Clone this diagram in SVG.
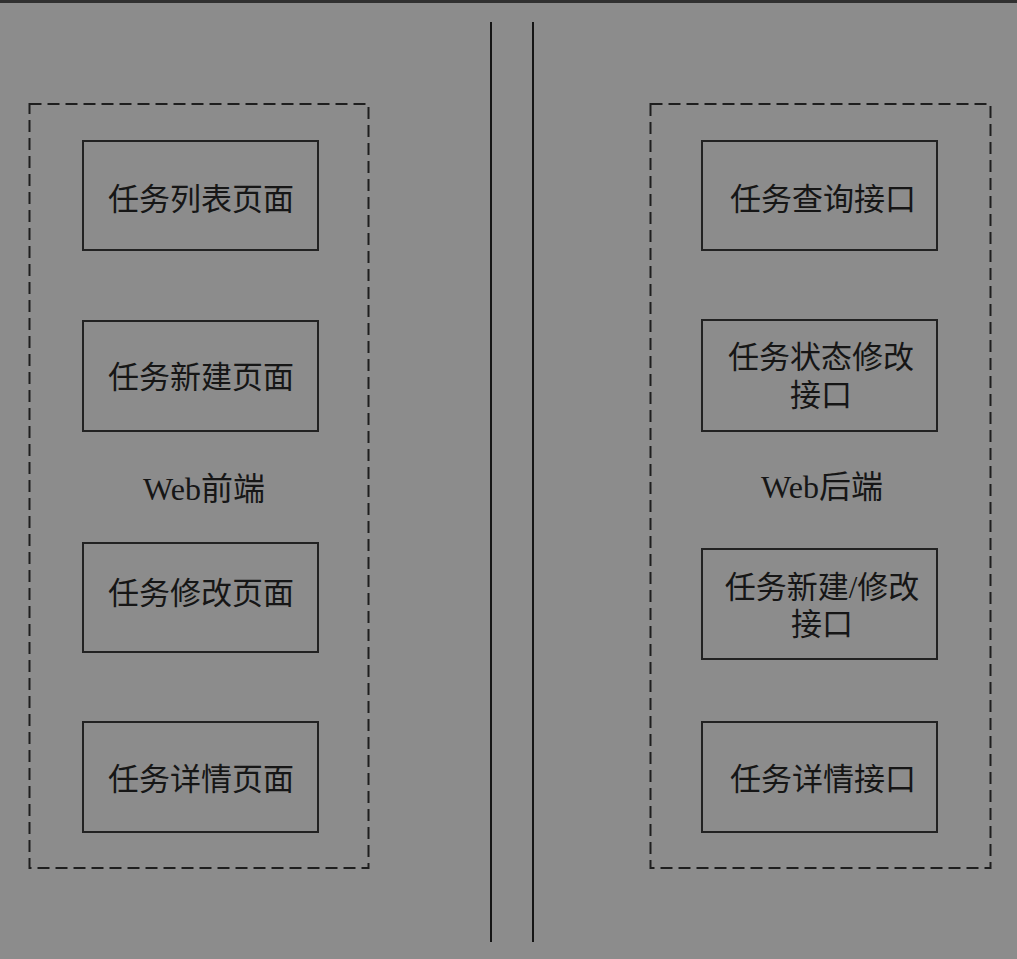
<svg xmlns="http://www.w3.org/2000/svg" width="1017" height="959" viewBox="0 0 1017 959">
<style>
.bg{fill:#8c8c8c}
.grp{fill:none;stroke:#1e1e1e;stroke-width:2;stroke-dasharray:12 6}
.box{fill:none;stroke:#222;stroke-width:2}
.sep{stroke:#151515;stroke-width:2}
text{font-family:"Liberation Serif","Noto Sans CJK SC",serif;fill:#161616;text-anchor:middle;dominant-baseline:central}
.t{font-size:31px}
.g{font-size:32px}
</style>
<rect class="bg" x="0" y="0" width="1017" height="959"/>
<rect x="0" y="0" width="1017" height="3" fill="#303030"/>
<g id="connectors">
<line class="sep" x1="491" y1="22" x2="491" y2="942"/>
<line class="sep" x1="533" y1="22" x2="533" y2="942"/>
</g>
<g id="frontend">
<rect class="grp" x="29.5" y="104" width="339" height="764"/>
<text class="g" x="204" y="489">Web前端</text>
</g>
<g id="backend">
<rect class="grp" x="650.5" y="104" width="340" height="764"/>
<text class="g" x="822" y="487">Web后端</text>
</g>
<g id="list-page"><rect class="box" x="83" y="141" width="235" height="109"/><text class="t" x="201" y="199">任务列表页面</text></g>
<g id="new-page"><rect class="box" x="83" y="321" width="235" height="110"/><text class="t" x="201" y="377">任务新建页面</text></g>
<g id="edit-page"><rect class="box" x="83" y="543" width="235" height="109"/><text class="t" x="201" y="593">任务修改页面</text></g>
<g id="detail-page"><rect class="box" x="83" y="722" width="235" height="110"/><text class="t" x="201" y="779">任务详情页面</text></g>
<g id="query-api"><rect class="box" x="702" y="141" width="235" height="109"/><text class="t" x="823" y="199">任务查询接口</text></g>
<g id="status-api"><rect class="box" x="702" y="320" width="235" height="111"/><text class="t" x="821" y="357">任务状态修改</text><text class="t" x="821" y="395">接口</text></g>
<g id="create-edit-api"><rect class="box" x="702" y="549" width="235" height="110"/><text class="t" x="822" y="587">任务新建/修改</text><text class="t" x="822" y="624">接口</text></g>
<g id="detail-api"><rect class="box" x="702" y="722" width="235" height="110"/><text class="t" x="823" y="779">任务详情接口</text></g>
</svg>
